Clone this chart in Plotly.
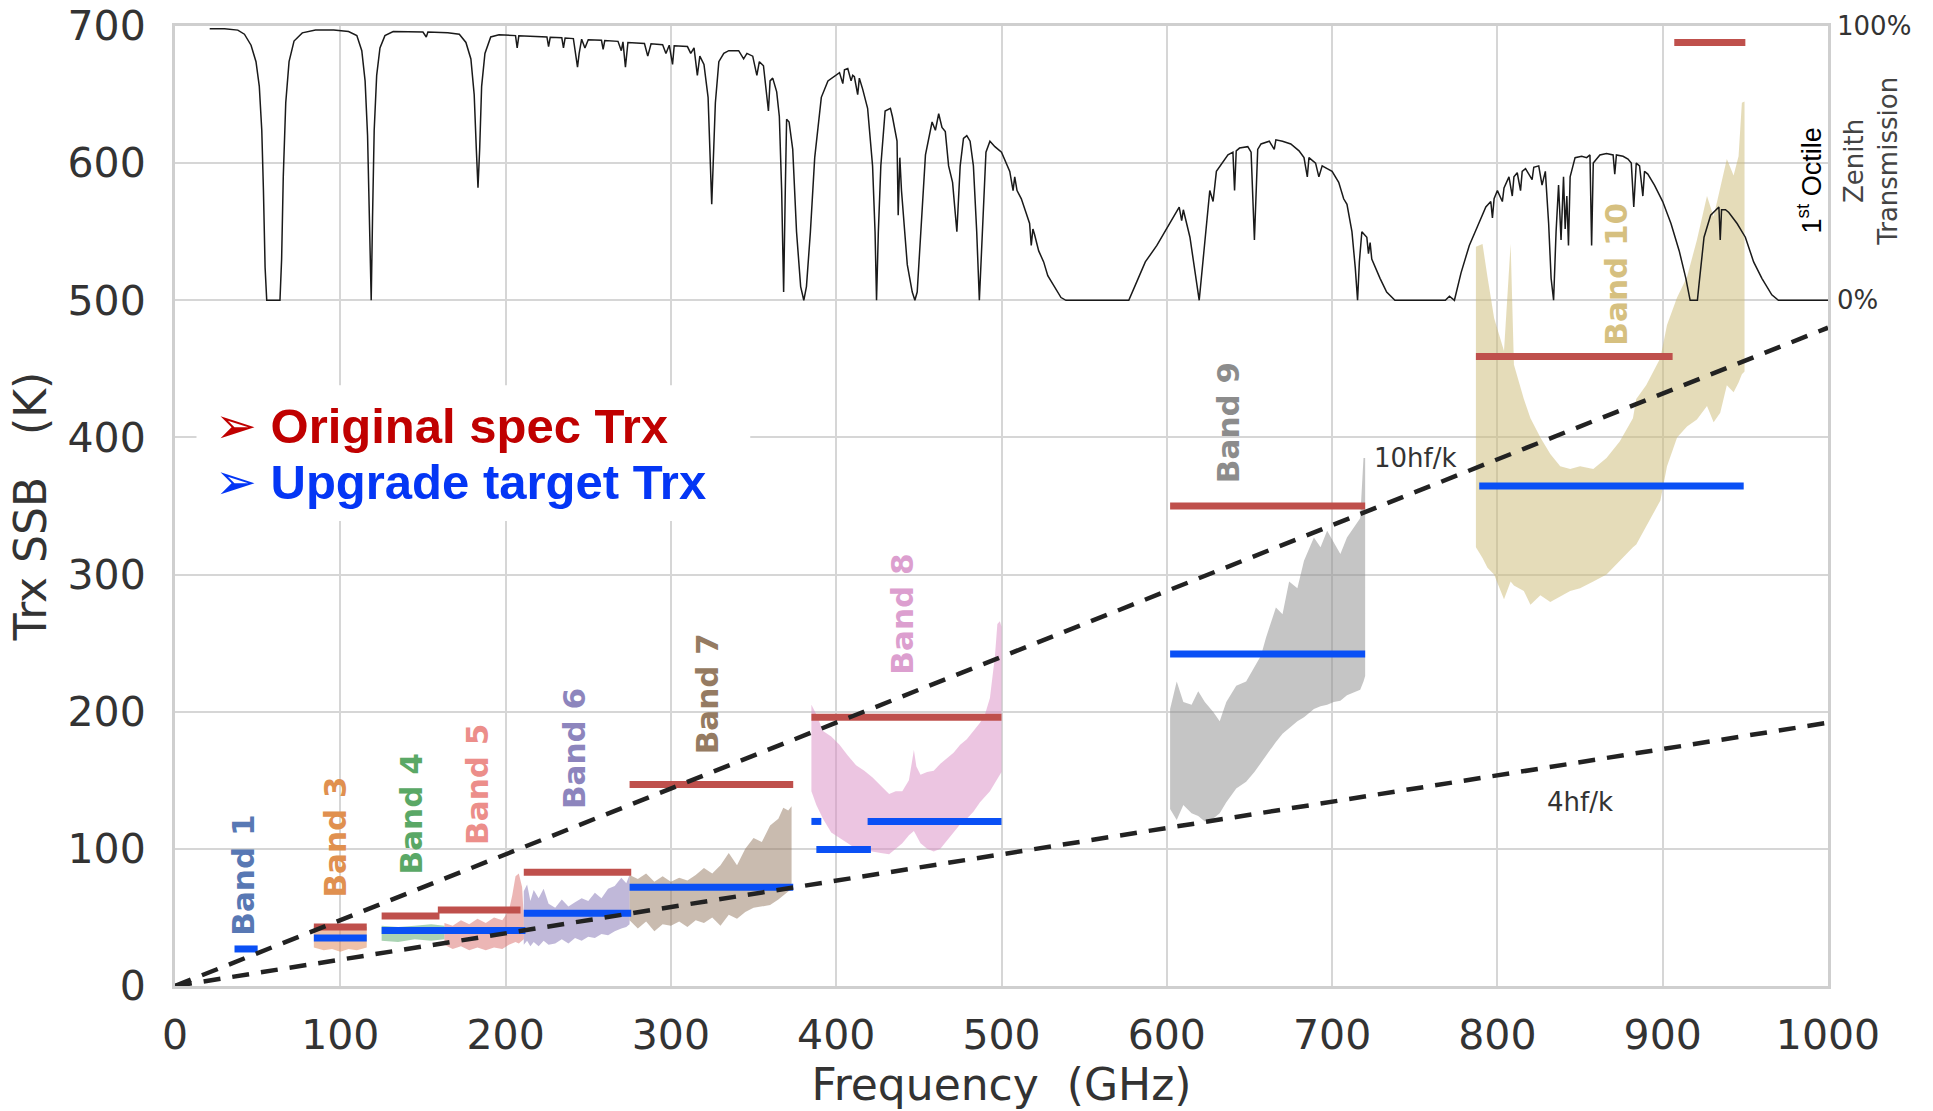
import plotly.graph_objects as go

# ---------------------------------------------------------------------------
# Zenith atmospheric transmission (percent) versus frequency (GHz)
# ---------------------------------------------------------------------------
trans_freq = [
    21, 30, 38, 42, 46, 49, 51, 52.5, 53.5, 54.5, 55.5, 63.5, 64.5, 65.5, 67, 69, 72, 77, 85, 96,
    105, 110, 113, 115, 116.5, 117.8, 118.7, 119.5, 120.5, 122, 124, 127, 132, 150, 152, 153, 165,
    172, 176, 179, 181, 182.3, 183.3, 184.3, 185.5, 187.5, 191, 196, 206, 207, 208, 225, 226, 227,
    234, 235, 236, 241, 242.5, 243.5, 244.5, 246, 248, 250, 258, 259, 260, 268, 270, 271, 272.5,
    274, 284, 286, 288, 295, 297, 299, 301, 302, 310, 312, 314, 316, 317.5, 320, 322.5, 324.7,
    326.9, 329, 332, 335, 341, 344, 346, 349.5, 352, 353.5, 356, 359, 360, 361.6, 364, 365.6, 367,
    368.2, 369.2, 370, 371.5, 373.7, 376, 378.5, 380.4, 382, 384.4, 387, 391, 395, 402, 404, 405,
    407, 409, 410, 411, 413, 414, 416, 419, 422, 423.5, 424.4, 425.5, 427, 429.6, 432.8, 434, 436.8,
    437.5, 438.5, 439.5, 441, 443, 446, 447.6, 449, 451.6, 454, 458, 460, 462, 464, 466, 468, 470.4,
    473, 475, 477, 479, 481, 483, 485, 486.6, 488.4, 490.6, 493, 496, 500, 505, 507, 508, 509.4,
    512, 514.8, 517, 518, 519, 520, 522.5, 525.5, 528, 531, 536, 539, 577, 582, 587, 594, 599,
    603.5, 607.5, 609, 610, 614, 618, 619.6, 622, 626, 628, 630, 637, 640, 641, 642, 644, 649, 651,
    653, 655, 657, 662, 665, 666, 670, 675, 680, 683, 685, 686, 690, 692, 694, 697, 700, 704, 707,
    709, 712, 714, 715.4, 716.5, 718, 721, 722, 723, 724, 729, 733, 738, 768.5, 771, 774, 778, 783,
    788, 793, 796, 797, 798, 800, 803, 804, 807, 809, 810, 812, 814, 815, 817, 821, 822, 825, 827,
    829, 831, 832.5, 834, 835.5, 837, 838.5, 840, 841, 842, 843, 844, 847, 851, 854, 856, 857, 858,
    862, 866, 870, 871, 872, 876, 879, 881, 882.5, 884, 886, 888, 889, 891, 895, 900, 905, 910, 914,
    916.6, 921, 922, 925, 929, 932, 934, 934.8, 935.6, 938, 940, 945, 950, 955, 960, 966, 970, 1000,
]
trans_pct = [
    99, 99, 98.5, 97, 93, 87, 78, 62, 40, 12, 0, 0, 15, 45, 72, 87, 94.5, 97.5, 98.5, 98.5,
    98, 96.5, 91, 80, 60, 25, 0, 30, 62, 82, 92, 96.5, 98, 97.8, 96, 97.8, 97.5,
    97, 94, 88, 75, 55, 41, 55, 78, 90, 96, 96.8, 96.5, 92, 96.4, 96, 92.5, 95.9,
    95.7, 92, 95.6, 95.4, 88, 85, 90, 95.2, 92, 95, 94.8, 91.5, 94.7, 94.4, 91, 94.2, 85,
    94, 93.6, 89, 93.5, 93.2, 90, 93, 86, 92.8, 92.5, 90, 92, 82, 89, 86, 74, 35,
    72, 87, 90, 91, 91, 88, 90, 89, 82, 87, 85.5, 69, 80, 81, 76, 67, 40,
    3, 40, 66, 65, 55, 25, 5, 0, 5, 25, 52, 74, 80, 83, 79, 84,
    84.5, 80, 82, 81.5, 75, 81, 77, 70, 49, 25, 0, 25, 49, 69, 70, 67, 58,
    31, 52, 40, 28, 13, 3, 0, 3, 31, 53, 65, 62, 68, 63, 61.5, 49, 43,
    25, 49, 59, 60, 58, 49, 25, 0, 25, 54, 58, 56, 54, 47, 40, 45, 40,
    37, 32, 28, 20, 26, 24, 18, 14, 9, 6, 1, 0, 0, 7, 14, 20, 25,
    30, 34, 29, 33, 23, 7, 0, 15, 40, 36, 47, 53, 54, 40, 54.5, 55.5, 56, 54,
    22, 55, 57, 58, 55, 58.5, 58, 57, 54.5, 52, 45, 52, 50, 45, 49, 48, 47, 43, 37,
    35, 25, 12, 0, 14, 25, 23, 17, 21, 15, 8, 3, 0, 0, 1.5, 0, 10, 20,
    27, 34, 36, 30, 37, 40, 36, 41, 45, 38, 45, 46.5, 40, 47, 48, 44, 48.5, 49, 42,
    47, 28, 8, 0, 25, 42, 22, 45, 26, 38, 20, 45, 52, 52.5, 52, 53, 20, 50,
    53, 53.5, 53, 46, 53, 52.5, 51.5, 50, 34, 50, 49, 38, 47, 46, 42, 36, 28, 18, 8,
    0, 0, 6, 23, 31, 33, 34, 22, 33, 33, 32, 28, 23, 14, 8, 2, 0, 0,
]

# ---------------------------------------------------------------------------
# Measured receiver temperature envelopes (K) per ALMA band
# ---------------------------------------------------------------------------
b3_freq = [84, 90, 95, 100, 105, 110, 116]
b3_hi = [44, 43, 44, 42, 43, 44, 43]
b3_lo = [28, 26, 27, 25, 27, 26, 28]

b4_freq = [125, 135, 145, 155, 163]
b4_hi = [44, 43, 44, 45, 44]
b4_lo = [33, 32, 34, 33, 34]

b5_freq = [163, 168, 173, 178, 183, 188, 193, 198, 202, 204, 206, 208, 210, 211]
b5_hi = [46, 44, 48, 45, 49, 46, 50, 48, 55, 66, 80, 82, 72, 50]
b5_lo = [30, 27, 29, 26, 28, 26, 28, 27, 30, 31, 32, 31, 33, 34]

b6_freq = [211, 213, 215, 217, 220, 223, 226, 230, 234, 238, 242, 246, 250, 254, 258, 262, 266,
           270, 273, 275]
b6_hi = [69, 74, 62, 70, 64, 71, 60, 57, 63, 58, 61, 64, 62, 68, 64, 71, 73, 79, 75, 81]
b6_lo = [30, 33, 29, 32, 29, 33, 30, 31, 34, 31, 35, 33, 36, 35, 38, 37, 40, 42, 43, 45]

b7_freq = [275, 280, 285, 290, 295, 300, 305, 310, 315, 320, 325, 330, 335, 340, 345, 350, 355,
           360, 365, 368, 371, 373]
b7_hi = [81, 78, 82, 76, 80, 76, 79, 77, 81, 86, 82, 88, 97, 88, 100, 108, 105, 117, 122, 130,
         128, 131]
b7_lo = [48, 42, 47, 40, 45, 44, 47, 43, 48, 46, 50, 44, 52, 49, 54, 57, 58, 59, 63, 66, 69, 71]

b8_freq = [385, 388, 392, 397, 402, 407, 412, 417, 422, 427, 432, 436, 440, 444, 447, 448.5, 451,
           455, 459, 463, 467, 471, 475, 479, 483, 487, 490, 493, 496, 497.5, 499, 500]
b8_hi = [205, 198, 186, 182, 176, 168, 161, 157, 152, 146, 140, 142, 142, 150, 172, 160, 154, 156,
         157, 162, 166, 170, 176, 180, 186, 192, 198, 210, 240, 264, 266, 262]
b8_lo = [142, 132, 122, 112, 108, 104, 100, 99, 98, 97, 96, 100, 104, 110, 113, 110, 104, 100,
         98, 100, 106, 112, 118, 122, 127, 134, 138, 142, 148, 150, 154, 156]

b9_freq = [602, 606, 610, 615, 619, 623, 628, 632, 636, 642, 648, 653, 657, 660, 666, 670, 674,
           679, 683, 689, 693, 697, 701, 705, 709, 713, 717, 719, 720]
b9_hi = [202, 222, 207, 205, 215, 207, 200, 193, 207, 219, 222, 232, 241, 254, 276, 271, 295,
         290, 310, 327, 320, 332, 324, 315, 327, 334, 341, 385, 385]
b9_lo = [129, 121, 132, 126, 124, 120, 122, 126, 134, 144, 149, 156, 163, 168, 178, 184, 188,
         193, 196, 202, 204, 205, 207, 208, 212, 214, 216, 222, 226]

b10_freq = [787, 791, 794, 798, 804, 808, 810, 816, 820, 826, 832, 838, 844, 850, 858, 866, 874,
            882, 884, 890, 898.6, 902.6, 908.7, 914.7, 920.7, 926.8, 930.8, 934.8, 938.8, 942.9,
            945.9, 947.9, 949.5]
b10_hi = [539, 541, 517, 487, 463, 541, 453, 428, 414, 400, 388, 379, 377, 379, 377, 385, 397,
          414, 428, 438, 458, 482, 502, 517, 544, 576, 561, 581, 603, 591, 605, 644, 645]
b10_lo = [320, 312, 305, 300, 282, 295, 292, 288, 278, 285, 280, 284, 288, 290, 295, 300, 310,
          320, 322, 335, 354, 379, 400, 408, 413, 423, 411, 418, 438, 433, 440, 446, 448]

band_fill_colors = ["rgba(221,132,82,0.5)", "rgba(85,168,104,0.5)", "rgba(218,110,108,0.5)",
                    "rgba(129,114,179,0.5)", "rgba(147,120,96,0.5)", "rgba(218,139,195,0.5)",
                    "rgba(140,140,140,0.5)", "rgba(204,185,116,0.5)"]
band_envelopes = [(b3_freq, b3_hi, b3_lo), (b4_freq, b4_hi, b4_lo), (b5_freq, b5_hi, b5_lo),
                  (b6_freq, b6_hi, b6_lo), (b7_freq, b7_hi, b7_lo), (b8_freq, b8_hi, b8_lo),
                  (b9_freq, b9_hi, b9_lo), (b10_freq, b10_hi, b10_lo)]

# ---------------------------------------------------------------------------
# Specification levels: original spec (red) and upgrade target (blue)
# ---------------------------------------------------------------------------
orig_lo = [84, 125, 159, 211, 275, 385, 602, 787, 907]
orig_hi = [116, 160, 209, 276, 374, 500, 720, 906, 950]
orig_trx = [43, 51, 55.5, 83, 147, 196, 350, 459, 688]

upg_lo = [36, 84, 125, 211, 275, 385, 388, 419, 602, 789]
upg_hi = [50, 116, 212, 276, 374, 391, 421, 500, 720, 949]
upg_trx = [27, 35, 40.5, 53, 72, 120, 99.5, 120, 242, 364.5]

# Quantum-limit reference lines (K) at the ends of the frequency range
ql_freq = [0, 1000]
ql_10hfk = [0, 480]
ql_4hfk = [0, 192]

# Band labels
label_text = ["Band 1", "Band 3", "Band 4", "Band 5", "Band 6", "Band 7", "Band 8", "Band 9",
              "Band 10"]
label_freq = [41, 97, 142.5, 183, 241, 321.5, 440, 637.5, 872]
label_trx = [81, 108.5, 125.5, 147, 173, 213, 271, 411, 519]
label_colors = ["#5878b4", "#e0904f", "#5aa866", "#ec8e8a", "#8d85bd", "#957b62", "#dc9fcf",
                "#8c8c8c", "#d6c080"]

# Spec key entries
key_text = ["Original spec Trx", "Upgrade target Trx"]
key_trx = [408, 367.5]
key_colors = ["#c00000", "#0436f5"]


def segments(lo, hi, val):
    xs, ys = [], []
    for a, b, v in zip(lo, hi, val):
        xs += [a, b, None]
        ys += [v, v, None]
    return xs, ys


fig = go.Figure()

for (f, hi, lo), col in zip(band_envelopes, band_fill_colors):
    fig.add_trace(go.Scatter(
        x=list(f) + list(f)[::-1], y=list(hi) + list(lo)[::-1],
        fill="toself", fillcolor=col, mode="lines", line=dict(width=0),
        hoverinfo="skip", showlegend=False))

ox, oy = segments(orig_lo, orig_hi, orig_trx)
fig.add_trace(go.Scatter(x=ox, y=oy, mode="lines", line=dict(color="#bf504c", width=7),
                         showlegend=False, name="Original spec Trx"))
ux, uy = segments(upg_lo, upg_hi, upg_trx)
fig.add_trace(go.Scatter(x=ux, y=uy, mode="lines", line=dict(color="#0a50f5", width=7),
                         showlegend=False, name="Upgrade target Trx"))

for ql in (ql_10hfk, ql_4hfk):
    fig.add_trace(go.Scatter(x=ql_freq, y=ql, mode="lines",
                             line=dict(color="#222222", width=4.5, dash="17px,12px"),
                             showlegend=False, hoverinfo="skip"))

fig.add_trace(go.Scatter(x=trans_freq, y=trans_pct, mode="lines", yaxis="y2",
                         line=dict(color="#1a1a1a", width=1.5), showlegend=False,
                         name="Zenith transmission"))

tick_font = dict(family="DejaVu Sans", size=41, color="#333333")
title_font = dict(family="DejaVu Sans", size=44, color="#333333")

fig.update_layout(
    width=1933, height=1111,
    margin=dict(l=175, r=105, t=26, b=125),
    plot_bgcolor="white", paper_bgcolor="white",
    font=dict(family="DejaVu Sans", color="#333333"),
    xaxis=dict(range=[0, 1000], dtick=100, tick0=0, showgrid=True, gridcolor="#d6d6d6",
               gridwidth=2, zeroline=False, showline=True, linecolor="#cfcfcf", linewidth=3,
               mirror=True, ticks="", tickfont=tick_font, ticklabelstandoff=11,
               automargin=False,
               title=dict(text="Frequency\u00a0\u00a0(GHz)", standoff=8, font=title_font)),
    yaxis=dict(range=[0, 700], dtick=100, tick0=0, showgrid=True, gridcolor="#d6d6d6",
               gridwidth=2, zeroline=False, showline=True, linecolor="#cfcfcf", linewidth=3,
               mirror=True, ticks="", tickfont=tick_font, ticklabelstandoff=18,
               automargin=False,
               title=dict(text="Trx SSB\u00a0\u00a0\u00a0(K)", standoff=8, font=title_font)),
    yaxis2=dict(range=[-250, 100], overlaying="y", side="right", showgrid=False,
                zeroline=False, showline=False, ticks="", tickvals=[0, 100],
                ticktext=["0%", "100%"], ticklabelstandoff=8, automargin=False,
                tickfont=dict(family="DejaVu Sans", size=26, color="#333333")),
)

# White panel behind the spec key
fig.add_shape(type="rect", xref="x", yref="y", x0=13, x1=348, y0=339, y1=438,
              fillcolor="white", line=dict(width=0), layer="above")

for txt, fx, ty, col in zip(label_text, label_freq, label_trx, label_colors):
    fig.add_annotation(x=fx, y=ty, xref="x", yref="y", text=txt, showarrow=False,
                       textangle=-90, xanchor="center", yanchor="middle",
                       font=dict(family="DejaVu Sans", size=31, color=col, weight="bold"))

# Spec key: arrowhead bullet followed by the bold entry text
for txt, ty, col in zip(key_text, key_trx, key_colors):
    fig.add_annotation(
        x=23, y=ty, xref="x", yref="y", showarrow=False, xanchor="left", yanchor="middle",
        text=("<span style='font-family:DejaVu Sans;font-size:50px;font-weight:normal'>"
              "\u27a2</span>\u00a0" + txt),
        font=dict(family="Liberation Sans", size=49, color=col, weight="bold"))

fig.add_annotation(x=724, y=385, xref="x", yref="y", text="10hf/k", showarrow=False,
                   xanchor="left", yanchor="middle",
                   font=dict(family="DejaVu Sans", size=26, color="#333333"))
fig.add_annotation(x=850, y=134, xref="x", yref="y", text="4hf/k", showarrow=False,
                   xanchor="center", yanchor="middle",
                   font=dict(family="DejaVu Sans", size=26, color="#333333"))

fig.add_annotation(x=1.0263, y=0.859, xref="paper", yref="paper",
                   text="Zenith<br>Transmission", showarrow=False, textangle=-90,
                   xanchor="center", yanchor="middle",
                   font=dict(family="DejaVu Sans", size=26, color="#444444"))
fig.add_annotation(x=0.9888, y=0.8396, xref="paper", yref="paper",
                   text="1<sup>st</sup> Octile", showarrow=False, textangle=-90,
                   xanchor="center", yanchor="middle",
                   font=dict(family="Liberation Sans", size=27, color="#000000"))

fig.write_html("out.html")
